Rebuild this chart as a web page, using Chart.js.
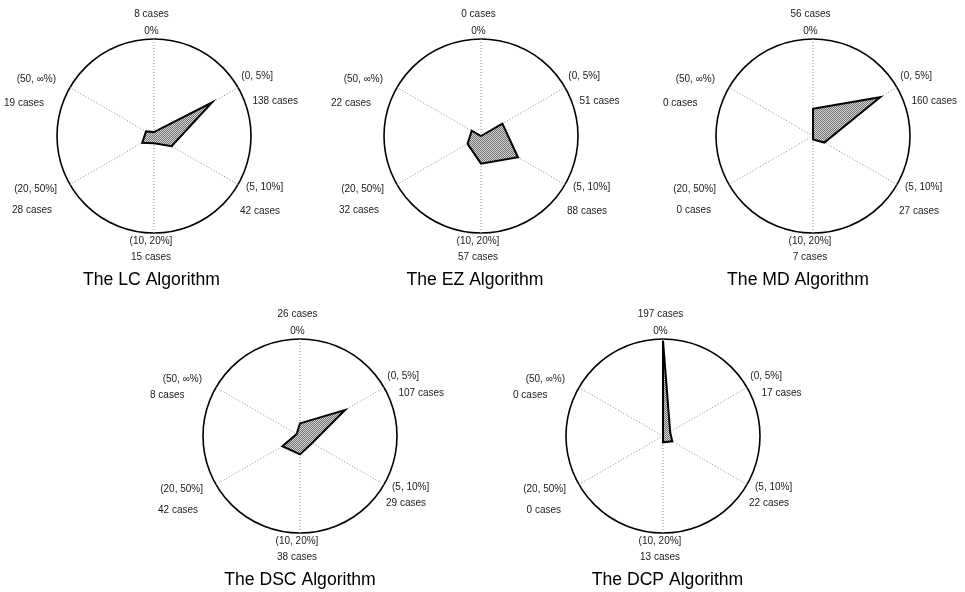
<!DOCTYPE html>
<html>
<head>
<meta charset="utf-8">
<script src="https://cdn.jsdelivr.net/npm/chart.js@4.4.1/dist/chart.umd.min.js"></script>
<style>
  html, body { margin: 0; padding: 0; background: #fff; }
  body { width: 965px; height: 592px; overflow: hidden; position: relative; }
  canvas { position: absolute; }
</style>
</head>
<body>
<script>
// Error-range categories (spokes, clockwise from the top)
const categories = ['0%', '(0, 5%]', '(5, 10%]', '(10, 20%]', '(20, 50%]', '(50, ∞%)'];

// Algorithms, one radar each
const algorithms = ['LC', 'EZ', 'MD', 'DSC', 'DCP'];

// Number of cases per error range
const casesLC  = [8, 138, 42, 15, 28, 19];
const casesEZ  = [0, 51, 88, 57, 32, 22];
const casesMD  = [56, 160, 27, 7, 0, 0];
const casesDSC = [26, 107, 29, 38, 42, 8];
const casesDCP = [197, 17, 22, 13, 0, 0];

const seriesByAlgorithm = [casesLC, casesEZ, casesMD, casesDSC, casesDCP];

// Radial axis range
const axisMax = 200;

// ---- layout ----
const CANVAS_W = 330, CANVAS_H = 292;
const CENTER_X = 165, CENTER_Y = 136, RADIUS = 97;

const panels = [
  { cx: 154, cy: 136, titleDx: -2.5, lift: 0 },
  { cx: 481, cy: 136, titleDx: -6,   lift: 0 },
  { cx: 813, cy: 136, titleDx: -15,  lift: 0 },
  { cx: 300, cy: 436, titleDx: 0,    lift: -8 },
  { cx: 663, cy: 436, titleDx: 4.5,  lift: -8 }
];

// Where the range label and the case count sit around each spoke (offsets from centre)
const labelSpots = [
  { cat: [-2.5, -105,  'center'], cnt: [-2.5, -121.5, 'center'], lifts: false },
  { cat: [87.3, -59.5, 'left'],   cnt: [98.5, -35,    'left'],   lifts: true  },
  { cat: [92,    51.5, 'left'],   cnt: [86,    75,    'left'],   lifts: true  },
  { cat: [-3,   105.5, 'center'], cnt: [-3,   121.5,  'center'], lifts: false },
  { cat: [-97,   53.5, 'right'],  cnt: [-102,  74,    'right'],  lifts: false },
  { cat: [-98,  -56.5, 'right'],  cnt: [-150, -33,    'left'],   lifts: true  }
];

const SMALL_FONT = '10px "Liberation Sans", Arial, Helvetica, sans-serif';
const TITLE_FONT = '17.6px "Liberation Sans", Arial, Helvetica, sans-serif';

// Halftone grey fill for the polygons
function halftone() {
  const c = document.createElement('canvas');
  c.width = 2; c.height = 2;
  const g = c.getContext('2d');
  g.fillStyle = '#d6d6d6';
  g.fillRect(0, 0, 2, 2);
  g.fillStyle = '#707070';
  g.fillRect(0, 0, 1, 1);
  g.fillRect(1, 1, 1, 1);
  return g.createPattern(c, 'repeat');
}

// Draws range labels, case counts and the title around each radar
const spokeText = {
  id: 'spokeText',
  afterDraw(chart, args, opts) {
    const r = chart.scales.r;
    const ctx = chart.ctx;
    const x0 = r.xCenter, y0 = r.yCenter;
    const values = chart.data.datasets[0].data;
    ctx.save();
    ctx.fillStyle = '#1a1a1a';
    ctx.textBaseline = 'middle';
    ctx.font = SMALL_FONT;
    chart.data.labels.forEach((lab, i) => {
      const s = labelSpots[i];
      ctx.textAlign = s.cat[2];
      ctx.fillText(lab, x0 + s.cat[0], y0 + s.cat[1]);
      ctx.textAlign = s.cnt[2];
      ctx.fillText(values[i] + ' cases', x0 + s.cnt[0], y0 + s.cnt[1] + (s.lifts ? opts.lift : 0));
    });
    ctx.fillStyle = '#000';
    ctx.font = TITLE_FONT;
    ctx.textAlign = 'center';
    ctx.fillText(opts.title, x0 + opts.titleDx, y0 + 144.5);
    ctx.restore();
  }
};

const fillPattern = halftone();

algorithms.forEach((name, k) => {
  const p = panels[k];
  const canvas = document.createElement('canvas');
  canvas.width = CANVAS_W;
  canvas.height = CANVAS_H;
  canvas.style.left = (p.cx - CENTER_X) + 'px';
  canvas.style.top = (p.cy - CENTER_Y) + 'px';
  document.body.appendChild(canvas);

  new Chart(canvas, {
    type: 'radar',
    data: {
      labels: categories,
      datasets: [{
        data: seriesByAlgorithm[k],
        backgroundColor: fillPattern,
        borderColor: '#000',
        borderWidth: 2,
        pointRadius: 0,
        fill: true,
        tension: 0
      }]
    },
    plugins: [spokeText],
    options: {
      responsive: false,
      animation: false,
      devicePixelRatio: 1,
      layout: {
        padding: {
          left: CENTER_X - RADIUS,
          right: CANVAS_W - CENTER_X - RADIUS,
          top: CENTER_Y - RADIUS,
          bottom: CANVAS_H - CENTER_Y - RADIUS
        }
      },
      plugins: {
        legend: { display: false },
        tooltip: { enabled: false },
        spokeText: { title: 'The ' + name + ' Algorithm', titleDx: p.titleDx, lift: p.lift }
      },
      scales: {
        r: {
          min: 0,
          max: axisMax,
          ticks: { display: false, stepSize: axisMax },
          grid: { circular: true, color: '#000', lineWidth: 1.6 },
          angleLines: { display: true, color: '#8c8c8c', lineWidth: 1, borderDash: [1, 2] },
          pointLabels: { display: false }
        }
      }
    }
  });
});
</script>
</body>
</html>
